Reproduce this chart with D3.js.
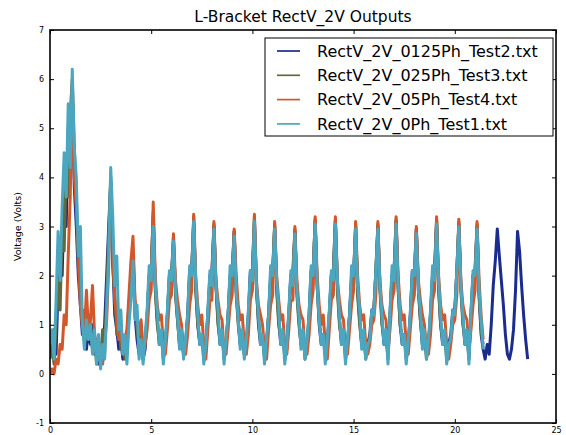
<!DOCTYPE html>
<html>
<head>
<meta charset="utf-8">
<script src="https://cdn.jsdelivr.net/npm/d3@7"></script>
<style>
  html, body { margin: 0; padding: 0; background: #fff; }
  svg { display: block; font-family: "DejaVu Sans", sans-serif; }
</style>
</head>
<body>
<svg id="chart" width="566" height="435"></svg>
<script>
// Sample spacing of the recorded traces (seconds); one row below = 10 samples
const sampleStep = 0.1;

const seriesNames = [
  "RectV_2V_0125Ph_Test2.txt",
  "RectV_2V_025Ph_Test3.txt",
  "RectV_2V_05Ph_Test4.txt",
  "RectV_2V_0Ph_Test1.txt"
];

// RectV_2V_0125Ph_Test2 (longest record)
const test2Volts = [
  0.8, 0.5, 0.9, 0.4, 1.8, 2.6, 2.0, 3.6, 3.0, 5.0,
  4.2, 5.8, 3.8, 3.0, 2.0, 1.4, 0.8, 1.0, 0.5, 0.9,
  0.6, 1.0, 0.4, 0.7, 0.2, 0.5, 0.4, 1.0, 2.0, 3.0,
  3.9, 2.3, 1.2, 0.9, 0.5, 0.7, 0.3, 0.6, 0.5, 1.3,
  1.9, 2.4, 1.2, 0.7, 0.4, 0.6, 0.3, 0.5, 1.2, 2.0,
  2.1, 3.2, 1.8, 1.1, 0.6, 0.8, 0.4, 0.6, 1.2, 2.0,
  2.0, 2.7, 1.7, 1.1, 0.6, 0.8, 0.4, 0.6, 1.2, 2.1,
  2.1, 3.1, 1.8, 1.0, 0.6, 0.8, 0.4, 0.6, 1.2, 2.0,
  2.1, 3.0, 1.8, 1.1, 0.6, 0.8, 0.4, 0.6, 1.2, 2.0,
  2.0, 2.9, 1.7, 1.1, 0.6, 0.8, 0.4, 0.6, 1.2, 2.1,
  2.1, 3.1, 1.8, 1.0, 0.6, 0.8, 0.4, 0.6, 1.2, 2.0,
  2.1, 3.0, 1.8, 1.1, 0.6, 0.8, 0.4, 0.6, 1.2, 2.0,
  2.0, 2.9, 1.7, 1.1, 0.6, 0.8, 0.4, 0.6, 1.2, 2.1,
  2.1, 3.1, 1.8, 1.0, 0.6, 0.8, 0.4, 0.6, 1.2, 2.0,
  2.1, 3.1, 1.8, 1.1, 0.6, 0.8, 0.4, 0.6, 1.2, 2.0,
  2.0, 3.0, 1.7, 1.1, 0.6, 0.8, 0.4, 0.6, 0.8, 1.3,
  1.3, 2.1, 3.0, 1.8, 1.1, 0.6, 0.8, 0.4, 1.2, 2.0,
  2.1, 3.1, 1.8, 1.0, 0.6, 0.8, 0.4, 0.6, 1.2, 2.1,
  2.0, 2.95, 1.7, 1.1, 0.6, 0.8, 0.4, 0.6, 1.2, 2.0,
  2.1, 3.1, 1.8, 1.0, 0.6, 0.8, 0.4, 0.6, 0.8, 1.3,
  1.3, 2.1, 3.05, 1.8, 1.1, 0.6, 0.8, 0.4, 1.2, 2.0,
  2.1, 3.0, 1.6, 0.8, 0.5, 0.3, 0.6, 0.4, 1.0, 1.8,
  2.3, 2.95, 2.4, 1.9, 1.4, 0.8, 0.4, 0.3, 0.5, 0.9,
  1.7, 2.9, 2.5, 1.8, 1.2, 0.7, 0.3
];

// RectV_2V_025Ph_Test3
const test3Volts = [
  0.3, 0.6, 0.2, 1.0, 1.9, 1.3, 3.0, 2.5, 4.4, 3.6,
  5.3, 6.0, 4.6, 3.6, 2.2, 1.6, 1.0, 1.3, 0.7, 1.2,
  1.0, 0.5, 0.8, 0.2, 0.6, 0.3, 0.9, 0.4, 1.6, 2.8,
  4.0, 2.2, 1.6, 0.8, 1.1, 0.5, 0.7, 0.3, 0.8, 1.4,
  2.0, 2.5, 1.4, 0.9, 0.6, 0.9, 0.3, 0.6, 1.2, 2.0,
  2.1, 3.3, 1.7, 1.0, 0.7, 0.8, 0.3, 0.6, 1.2, 2.0,
  2.0, 2.8, 1.6, 1.1, 0.6, 0.8, 0.4, 0.6, 1.1, 2.0,
  2.1, 3.2, 1.7, 1.0, 0.7, 0.8, 0.3, 0.5, 1.2, 1.9,
  2.0, 3.05, 1.8, 1.0, 0.7, 0.9, 0.3, 0.6, 1.2, 2.0,
  2.1, 2.9, 1.6, 1.0, 0.6, 0.8, 0.4, 0.6, 1.1, 2.0,
  2.1, 3.2, 1.7, 1.1, 0.7, 0.8, 0.3, 0.6, 1.2, 1.9,
  2.0, 3.05, 1.7, 1.0, 0.7, 0.9, 0.3, 0.5, 1.2, 2.0,
  2.1, 2.95, 1.6, 1.0, 0.6, 0.8, 0.3, 0.6, 1.1, 2.0,
  2.0, 3.15, 1.8, 1.1, 0.7, 0.8, 0.4, 0.6, 1.2, 2.0,
  2.1, 3.15, 1.7, 1.0, 0.7, 0.9, 0.3, 0.6, 1.2, 1.9,
  2.0, 3.05, 1.6, 1.0, 0.6, 0.8, 0.3, 0.6, 0.7, 1.2,
  1.3, 2.1, 3.05, 1.7, 1.0, 0.7, 0.8, 0.3, 1.2, 2.0,
  2.1, 3.15, 1.7, 1.0, 0.7, 0.8, 0.3, 0.6, 1.1, 2.0,
  2.0, 2.95, 1.8, 1.1, 0.6, 0.9, 0.3, 0.6, 1.2, 2.0,
  2.1, 3.15, 1.7, 1.0, 0.7, 0.8, 0.3, 0.6, 0.7, 1.2,
  1.3, 2.1, 3.1, 1.7, 1.0, 0.7, 0.8, 0.3, 1.2, 2.0,
  2.1, 3.05, 1.6, 0.9, 0.6
];

// RectV_2V_05Ph_Test4
const test4Volts = [
  0.0, 0.1, 0.0, 0.3, 0.2, 0.6, 0.5, 1.2, 1.0, 2.4,
  3.6, 5.9, 4.0, 3.4, 2.5, 1.4, 1.0, 0.8, 1.7, 0.9,
  1.1, 1.8, 0.8, 0.5, 0.3, 0.6, 0.2, 0.6, 1.1, 2.2,
  3.9, 2.6, 1.5, 1.1, 0.7, 1.0, 0.4, 0.7, 0.9, 1.6,
  2.3, 2.8, 1.5, 1.2, 0.8, 1.1, 0.5, 0.6, 0.9, 1.5,
  1.7, 3.5, 2.0, 1.4, 1.1, 1.2, 0.6, 0.4, 0.9, 1.5,
  1.6, 2.85, 1.9, 1.5, 1.2, 1.0, 0.5, 0.4, 0.8, 1.4,
  1.7, 3.25, 2.0, 1.4, 1.0, 1.2, 0.6, 0.3, 0.9, 1.5,
  1.5, 3.1, 1.9, 1.5, 1.2, 1.1, 0.5, 0.4, 0.9, 1.4,
  1.6, 2.95, 2.0, 1.4, 1.1, 1.2, 0.6, 0.4, 0.8, 1.5,
  1.7, 3.25, 1.9, 1.4, 1.2, 1.0, 0.5, 0.3, 0.9, 1.4,
  1.6, 3.1, 2.0, 1.5, 1.1, 1.2, 0.6, 0.4, 0.9, 1.5,
  1.5, 3.0, 1.9, 1.4, 1.2, 1.1, 0.5, 0.4, 0.8, 1.4,
  1.7, 3.2, 2.0, 1.4, 1.0, 1.2, 0.6, 0.3, 0.9, 1.5,
  1.6, 3.2, 1.9, 1.5, 1.2, 1.1, 0.5, 0.4, 0.9, 1.4,
  1.7, 3.1, 2.0, 1.4, 1.1, 1.2, 0.6, 0.4, 0.6, 1.0,
  1.1, 1.6, 3.1, 1.9, 1.4, 1.2, 1.1, 0.5, 0.9, 1.5,
  1.7, 3.2, 2.0, 1.4, 1.1, 1.2, 0.6, 0.4, 0.9, 1.4,
  1.6, 3.0, 1.9, 1.5, 1.2, 1.0, 0.5, 0.4, 0.8, 1.5,
  1.7, 3.2, 2.0, 1.4, 1.1, 1.2, 0.6, 0.3, 0.6, 1.0,
  1.1, 1.6, 3.15, 1.9, 1.4, 1.2, 1.1, 0.5, 0.9, 1.4,
  1.7, 3.1, 1.9, 1.2, 0.7
];

// RectV_2V_0Ph_Test1
const test1Volts = [
  0.6, 0.9, 0.3, 1.5, 2.9, 1.9, 3.4, 4.5, 3.6, 5.5,
  4.2, 6.2, 4.6, 4.0, 2.4, 3.0, 1.0, 0.5, 1.1, 0.7,
  1.0, 0.4, 0.9, 0.2, 0.8, 0.1, 0.6, 0.3, 1.3, 2.4,
  4.2, 3.2, 1.8, 2.4, 0.9, 1.3, 0.4, 0.8, 0.2, 1.0,
  1.5, 2.3, 1.1, 1.4, 0.3, 0.7, 0.2, 0.8, 1.3, 2.2,
  1.9, 3.0, 1.8, 1.3, 0.6, 0.9, 0.2, 0.7, 1.3, 2.1,
  1.9, 2.7, 1.7, 1.2, 0.5, 0.9, 0.3, 0.7, 1.2, 2.2,
  2.0, 3.1, 1.9, 1.2, 0.6, 0.8, 0.2, 0.6, 1.3, 2.1,
  1.8, 2.95, 1.8, 1.3, 0.6, 0.9, 0.2, 0.7, 1.2, 2.2,
  2.0, 2.8, 1.7, 1.1, 0.5, 0.9, 0.3, 0.7, 1.3, 2.1,
  1.9, 3.1, 1.8, 1.2, 0.6, 0.8, 0.2, 0.7, 1.2, 2.2,
  2.0, 2.95, 1.9, 1.3, 0.6, 0.9, 0.2, 0.6, 1.3, 2.1,
  1.8, 2.85, 1.7, 1.2, 0.5, 0.9, 0.3, 0.7, 1.2, 2.2,
  2.0, 3.05, 1.8, 1.1, 0.6, 0.8, 0.2, 0.7, 1.3, 2.1,
  1.9, 3.05, 1.9, 1.2, 0.6, 0.9, 0.2, 0.7, 1.2, 2.2,
  2.0, 2.95, 1.8, 1.3, 0.5, 0.9, 0.3, 0.6, 0.7, 1.3,
  1.2, 2.1, 2.95, 1.8, 1.2, 0.6, 0.9, 0.2, 1.3, 2.2,
  1.9, 3.05, 1.8, 1.2, 0.6, 0.8, 0.2, 0.7, 1.2, 2.1,
  2.0, 2.85, 1.7, 1.3, 0.5, 0.9, 0.3, 0.7, 1.3, 2.2,
  1.9, 3.05, 1.9, 1.2, 0.6, 0.9, 0.2, 0.6, 0.7, 1.3,
  1.2, 2.1, 3.0, 1.8, 1.2, 0.6, 0.9, 0.2, 1.3, 2.1,
  2.0, 2.95, 1.7, 1.1, 0.5
];

const seriesValues = [test2Volts, test3Volts, test4Volts, test1Volts];
const seriesColors = ["#1c2c8e", "#5e6b3c", "#d2572b", "#4ba6bf"];

const xTicks = [0, 5, 10, 15, 20, 25];
const yTicks = [-1, 0, 1, 2, 3, 4, 5, 6, 7];

const titleText = "L-Bracket RectV_2V Outputs";
const yLabelText = "Voltage (Volts)";

// ---- layout ----
const svg = d3.select("#chart");
const plot = { left: 50, right: 556, top: 30, bottom: 423 };

const x = d3.scaleLinear().domain([0, 25]).range([plot.left, plot.right]);
const y = d3.scaleLinear().domain([-1, 7]).range([plot.bottom, plot.top]);

// clip traces to the axes box
svg.append("defs").append("clipPath").attr("id", "plotClip")
  .append("rect")
  .attr("x", plot.left).attr("y", plot.top)
  .attr("width", plot.right - plot.left).attr("height", plot.bottom - plot.top);

const line = d3.line()
  .x((d, i) => x(i * sampleStep))
  .y(d => y(d));

const traces = svg.append("g").attr("clip-path", "url(#plotClip)");
seriesValues.forEach((vals, k) => {
  traces.append("path")
    .datum(vals)
    .attr("d", line)
    .attr("fill", "none")
    .attr("stroke", seriesColors[k])
    .attr("stroke-width", 3)
    .attr("stroke-linejoin", "round");
});

// ---- axes (ticks pointing inward on all four sides) ----
const tickFont = 8;
const axisBottom = d3.axisBottom(x).tickValues(xTicks).tickSizeInner(-4).tickSizeOuter(0).tickPadding(4)
  .tickFormat(d3.format("d"));
const axisTop = d3.axisTop(x).tickValues(xTicks).tickSizeInner(-4).tickSizeOuter(0).tickFormat("");
const axisLeft = d3.axisLeft(y).tickValues(yTicks).tickSizeInner(-4).tickSizeOuter(0).tickPadding(6)
  .tickFormat(d => d < 0 ? "-" + Math.abs(d) : String(d));
const axisRight = d3.axisRight(y).tickValues(yTicks).tickSizeInner(-4).tickSizeOuter(0).tickFormat("");

function styleAxis(g) {
  g.select(".domain").remove();
  g.selectAll(".tick line").attr("stroke", "#000").attr("stroke-width", 1);
  g.selectAll(".tick text").attr("fill", "#000").attr("font-size", tickFont)
    .attr("font-family", "DejaVu Sans, sans-serif");
}

svg.append("g").attr("transform", `translate(0,${plot.bottom})`).call(axisBottom).call(styleAxis);
svg.append("g").attr("transform", `translate(0,${plot.top})`).call(axisTop).call(styleAxis);
svg.append("g").attr("transform", `translate(${plot.left},0)`).call(axisLeft).call(styleAxis);
svg.append("g").attr("transform", `translate(${plot.right},0)`).call(axisRight).call(styleAxis);

// axes frame
svg.append("rect")
  .attr("x", plot.left).attr("y", plot.top)
  .attr("width", plot.right - plot.left).attr("height", plot.bottom - plot.top)
  .attr("fill", "none").attr("stroke", "#000").attr("stroke-width", 1.6);

// ---- title and axis label ----
svg.append("text")
  .attr("x", 303).attr("y", 22)
  .attr("text-anchor", "middle")
  .attr("font-size", 15.5)
  .attr("fill", "#000")
  .text(titleText);

svg.append("text")
  .attr("transform", `translate(21,${(plot.top + plot.bottom) / 2}) rotate(-90)`)
  .attr("text-anchor", "middle")
  .attr("font-size", 9.5)
  .attr("fill", "#000")
  .text(yLabelText);

// ---- legend ----
const legend = { x: 265, y: 38, w: 288, h: 98, row: 24.3 };
const lg = svg.append("g");
lg.append("rect")
  .attr("x", legend.x).attr("y", legend.y)
  .attr("width", legend.w).attr("height", legend.h)
  .attr("fill", "#fff").attr("stroke", "#000").attr("stroke-width", 1);

seriesNames.forEach((name, k) => {
  const cy = legend.y + 13 + k * legend.row;
  lg.append("line")
    .attr("x1", legend.x + 12).attr("x2", legend.x + 35)
    .attr("y1", cy).attr("y2", cy)
    .attr("stroke", seriesColors[k]).attr("stroke-width", 1.7);
  lg.append("text")
    .attr("x", legend.x + 52).attr("y", cy)
    .attr("dy", "0.35em")
    .attr("font-size", 16)
    .attr("fill", "#000")
    .text(name);
});
</script>
</body>
</html>
